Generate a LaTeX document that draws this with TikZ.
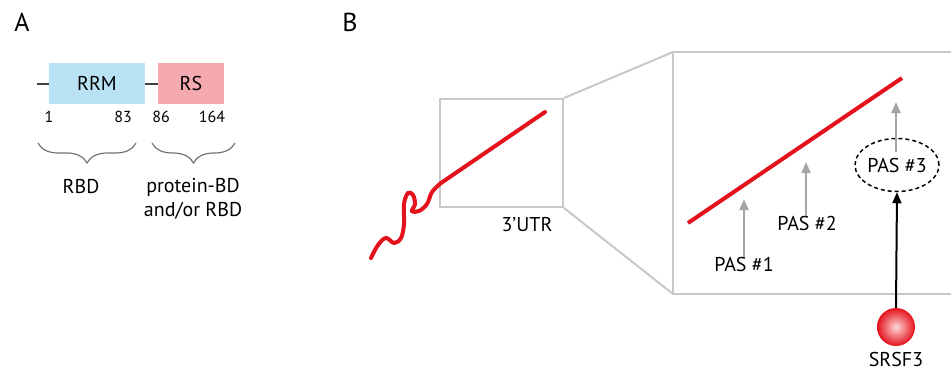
\documentclass[tikz,border=0pt]{standalone}
\usepackage{fontspec}
\setmainfont{PT Sans}
\usepackage{xcolor}
\usepackage{tikz}
\usetikzlibrary{shapes.geometric, arrows.meta, decorations.pathreplacing}
\definecolor{UTRRed}{RGB}{228,18,28}
\definecolor{BoxGray}{RGB}{200,200,200}
\definecolor{PasGray}{RGB}{165,165,165}
\definecolor{RRMBlue}{RGB}{185,227,245}
\definecolor{RSPink}{RGB}{245,170,176}

\begin{document}
\begin{tikzpicture}[x=1pt, y=-1pt,
            dom/.style={rectangle, inner sep=0pt, minimum height=41pt,
                        font=\fontsize{20}{23}\selectfont},
            lbl/.style={inner sep=0pt, align=center, font=\fontsize{20}{24}\selectfont},
            num/.style={inner sep=0pt, font=\fontsize{16}{18}\selectfont},
            panel/.style={inner sep=0pt, font=\fontsize{26}{28}\selectfont},
            brc/.style={decorate, decoration={brace, amplitude=20pt},
                        draw=black!55, line width=1.2pt},
            rna/.style={draw=UTRRed, line width=4pt},
            gbox/.style={draw=BoxGray, line width=2pt},
            pas/.style={-{Triangle[length=11pt, width=9pt]}, draw=PasGray,
                        line width=2pt},
            blk/.style={-{Triangle[length=11pt, width=9pt]}, draw=black,
                        line width=2pt}
          ]
          \useasboundingbox (0,0) rectangle (951,370);

          % panel A: domain structure
          \node[panel] (pa) at (22,22) {A};
          \node[dom, fill=RRMBlue, minimum width=96pt] (rrm) at (97,83.5) {RRM};
          \node[dom, fill=RSPink, minimum width=66pt] (rs) at (191,83.5) {RS};
          \coordinate (nterm) at (37,83.5);
          \draw[line width=2pt, black!75] (nterm) -- (rrm.west);
          \draw[line width=2pt, black!75] (rrm.east) -- (rs.west);
          \node[num] (n1) at (49,117) {1};
          \node[num] (n83) at (123,117) {83};
          \node[num] (n86) at (161,117) {86};
          \node[num] (n164) at (212,117) {164};
          \draw[brc] (136,143) -- (38,143);
          \draw[brc] (235,143) -- (152,143);
          \node[lbl] (rbd) at (81,187) {RBD};
          \node[lbl] (pbd) at (193,199) {protein-BD\\and/or RBD};

          % panel B: 3'UTR with alternative PAS
          \node[panel] (pb) at (350,22) {B};
          \node[gbox, rectangle, inner sep=0pt, minimum width=123pt,
                minimum height=108pt] (sbox) at (501.5,153) {};
          \draw[gbox] (951,52) -- (673,52) -- (673,294) -- (951,294);
          \draw[gbox] (sbox.north east) -- (673,52);
          \draw[gbox] (sbox.south east) -- (673,294);
          \draw[rna, line cap=round] plot[smooth, tension=0.6] coordinates {
                (371,258) (378,245) (386,238) (394,243) (401,238) (404,224)
                (404,204) (408,193) (413,195) (415,204) (412,211) (419,211)
                (427,204) (432,192) (441,183)};
          \draw[rna, line cap=round] (441,183) -- (545,112);
          \node[lbl] (utr) at (527,225) {3’UTR};

          \draw[rna] (688,223) -- (902,78);
          \node[lbl] (pas1) at (744,264) {PAS \#1};
          \node[lbl] (pas2) at (807,223) {PAS \#2};
          \node[lbl, draw=black, dashed, dash pattern=on 4pt off 3pt,
                line width=1.5pt, ellipse, minimum width=78pt,
                minimum height=53pt, inner sep=0pt] (pas3) at (897,165) {PAS \#3};
          \coordinate (tip1) at (744,199);
          \coordinate (tip2) at (806,162);
          \coordinate (tip3) at (896,102);
          \coordinate (base3) at (896,152);
          \draw[pas] (pas1.north) -- (tip1);
          \draw[pas] (pas2.north -| tip2) -- (tip2);
          \draw[pas] (base3) -- (tip3);

          \node[circle, minimum size=38pt, inner sep=0pt, shading=radial,
                inner color=white!85!red, outer color=UTRRed] (ball) at (896,327) {};
          \draw[blk] (ball.north) -- (pas3.south);
          \node[lbl] (srsf) at (896,359) {SRSF3};
        \end{tikzpicture}
\end{document}
